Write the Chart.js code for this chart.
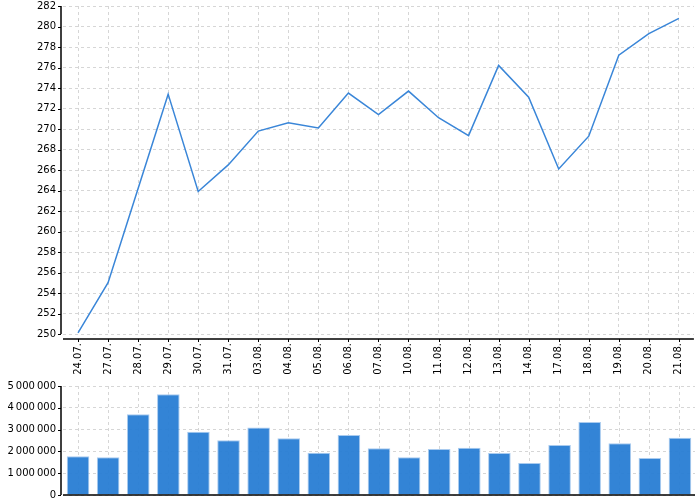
<!DOCTYPE html>
<html>
<head>
<meta charset="utf-8">
<script src="https://cdn.jsdelivr.net/npm/chart.js@4"></script>
<style>
  html, body { margin: 0; padding: 0; background: #fff; overflow: hidden; }
  #wrap { position: relative; width: 700px; height: 500px; overflow: hidden; }
  #priceBox { position: absolute; left: 0; top: -7px; width: 700px; height: 385px; }
  #volumeBox { position: absolute; left: 0; top: 373px; width: 700px; height: 135px; }
</style>
</head>
<body>
<div id="wrap">
  <div id="priceBox"><canvas id="priceChart"></canvas></div>
  <div id="volumeBox"><canvas id="volumeChart"></canvas></div>
</div>
<script>
// ===== Data =====
const dates = [
  "24.07.", "27.07.", "28.07.", "29.07.", "30.07.", "31.07.", "03.08.",
  "04.08.", "05.08.", "06.08.", "07.08.", "10.08.", "11.08.", "12.08.",
  "13.08.", "14.08.", "17.08.", "18.08.", "19.08.", "20.08.", "21.08.",
];
const prices = [
  250.1, 255.0, 264.2, 273.4, 263.9, 266.5, 269.8,
  270.6, 270.1, 273.5, 271.4, 273.7, 271.1, 269.35,
  276.2, 273.1, 266.1, 269.3, 277.2, 279.3, 280.8,
];
const volumes = [
  1775000, 1730000, 3700000, 4620000, 2900000, 2510000, 3100000,
  2600000, 1940000, 2750000, 2140000, 1730000, 2110000, 2170000,
  1930000, 1470000, 2290000, 3350000, 2370000, 1700000, 2630000,
];
const priceAxis = { min: 250, max: 282, step: 2 };
const volumeAxis = { min: 0, max: 5000000, step: 1000000 };

// ===== Shared style =====
Chart.defaults.font.family = "'DejaVu Sans', sans-serif";
Chart.defaults.font.size = 10;
Chart.defaults.color = "#000";
Chart.defaults.animation = false;

const gridStyle = {
  color: "#d6d6d6",
  drawTicks: false,
};
// in v4 the dash of the grid lines lives on the border options
const hiddenBorder = { display: false, dash: [3, 3] };

function formatVolume(value) {
  return String(value).replace(/\B(?=(\d{3})+(?!\d))/g, "\u2009");
}

// Draw detached black axis lines with short outward ticks
const axisLines = {
  id: "axisLines",
  afterDraw: function (chart, args, opts) {
    const ctx = chart.ctx;
    const area = chart.chartArea;
    const yScale = chart.scales.y;
    const xScale = chart.scales.x;
    const axisX = area.left - opts.yGap;
    const axisY = area.bottom + opts.xGap;

    ctx.save();
    ctx.strokeStyle = "#000";
    ctx.lineWidth = 1.5;
    ctx.beginPath();
    ctx.moveTo(axisX, area.top);
    ctx.lineTo(axisX, area.bottom);
    ctx.moveTo(area.left, axisY);
    ctx.lineTo(area.right, axisY);
    ctx.stroke();

    ctx.lineWidth = 1;
    ctx.beginPath();
    yScale.ticks.forEach(function (tick) {
      const py = Math.round(yScale.getPixelForValue(tick.value)) + 0.5;
      ctx.moveTo(axisX - 3, py);
      ctx.lineTo(axisX, py);
    });
    if (opts.xTicks) {
      xScale.ticks.forEach(function (tick, i) {
        const px = Math.round(xScale.getPixelForTick(i)) + 0.5;
        ctx.moveTo(px, axisY);
        ctx.lineTo(px, axisY + 3);
      });
    }
    ctx.stroke();
    ctx.restore();
  },
};

// Price line chart
new Chart(document.getElementById("priceChart"), {
  type: "line",
  data: {
    labels: dates,
    datasets: [
      {
        data: prices,
        borderColor: "#3a86d8",
        borderWidth: 1.5,
        pointRadius: 0,
        tension: 0,
        fill: false,
      },
    ],
  },
  plugins: [axisLines],
  options: {
    responsive: true,
    maintainAspectRatio: false,
    layout: { padding: { top: 5, right: 5, left: 0, bottom: 0 } },
    plugins: {
      legend: { display: false },
      tooltip: { enabled: false },
      axisLines: { xGap: 5, yGap: 2, xTicks: true },
    },
    scales: {
      x: {
        offset: true,
        grid: Object.assign({ offset: false }, gridStyle),
        border: hiddenBorder,
        ticks: { minRotation: 90, maxRotation: 90, padding: 9, autoSkip: false },
        afterFit: function (scale) {
          scale.height = 44;
        },
      },
      y: {
        min: priceAxis.min,
        max: priceAxis.max,
        grid: gridStyle,
        border: hiddenBorder,
        ticks: { stepSize: priceAxis.step, padding: 7 },
        afterFit: function (scale) {
          scale.width = 63;
        },
      },
    },
  },
});

// Volume bar chart
new Chart(document.getElementById("volumeChart"), {
  type: "bar",
  data: {
    labels: dates,
    datasets: [
      {
        data: volumes,
        backgroundColor: "rgba(40, 125, 212, 0.95)",
        borderColor: "#a9cbef",
        borderWidth: 1,
        barPercentage: 0.75,
        categoryPercentage: 1,
      },
    ],
  },
  plugins: [axisLines],
  options: {
    responsive: true,
    maintainAspectRatio: false,
    layout: { padding: { top: 7, right: 5, left: 0, bottom: 0 } },
    plugins: {
      legend: { display: false },
      tooltip: { enabled: false },
      axisLines: { xGap: 0, yGap: 2, xTicks: false },
    },
    scales: {
      x: {
        offset: true,
        grid: Object.assign({ offset: false }, gridStyle),
        border: hiddenBorder,
        ticks: { display: false },
        afterFit: function (scale) {
          scale.height = 6;
        },
      },
      y: {
        min: volumeAxis.min,
        max: volumeAxis.max,
        grid: gridStyle,
        border: hiddenBorder,
        ticks: {
          stepSize: volumeAxis.step,
          padding: 7,
          callback: function (value) {
            return formatVolume(value);
          },
        },
        afterFit: function (scale) {
          scale.width = 63;
        },
      },
    },
  },
});
</script>
</body>
</html>
